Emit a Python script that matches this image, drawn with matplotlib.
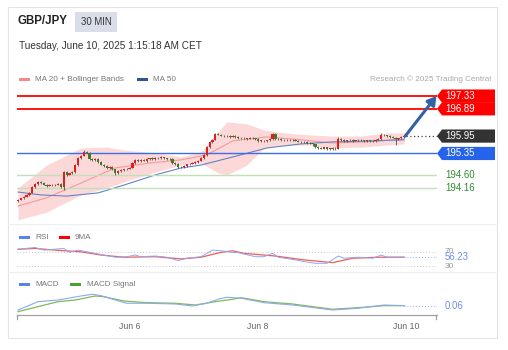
import matplotlib
matplotlib.use('Agg')
import matplotlib.pyplot as plt
from matplotlib.patches import Rectangle, Polygon
import matplotlib.transforms as mtransforms
import numpy as np

plt.rcParams['font.family'] = ['Liberation Sans', 'DejaVu Sans']

# ---- data (30 min bars, GBP/JPY) ----
first_open = 193.70
closes = [193.75, 193.80, 193.86, 193.92, 193.99, 194.19, 194.30, 194.37, 194.34, 194.28,
          194.24, 194.27, 194.25, 194.28, 194.30, 194.20, 194.70, 194.62, 194.66, 194.70,
          194.95, 195.20, 195.28, 195.40, 195.38, 195.15, 195.12, 195.16, 195.05, 194.96,
          194.92, 194.85, 194.90, 194.80, 194.66, 194.74, 194.78, 194.80, 194.83, 194.86,
          195.02, 195.12, 195.08, 195.14, 195.10, 195.16, 195.19, 195.15, 195.20, 195.18,
          195.22, 195.19, 195.16, 195.15, 195.02, 194.98, 194.90, 194.88, 194.92, 194.97,
          195.00, 195.02, 195.06, 195.10, 195.20, 195.30, 195.57, 195.75, 195.82, 196.02,
          196.00, 195.96, 195.94, 195.96, 195.93, 195.96, 195.92, 195.88, 195.90, 195.88,
          195.86, 195.89, 195.87, 195.84, 195.78, 195.79, 195.77, 195.80, 195.86, 196.02,
          195.86, 195.84, 195.82, 195.80, 195.83, 195.80, 195.82, 195.79, 195.76, 195.73,
          195.76, 195.72, 195.70, 195.66, 195.58, 195.55, 195.52, 195.56, 195.50, 195.53,
          195.50, 195.52, 195.86, 195.82, 195.78, 195.80, 195.82, 195.79, 195.81, 195.83,
          195.80, 195.78, 195.80, 195.77, 195.79, 195.83, 195.85, 196.00, 195.97, 195.95,
          195.92, 195.90, 195.86, 195.88, 195.91, 195.95]
# wick extents in pips (0.01)
wick_up = [2, 3, 2, 3, 4, 5, 3, 3, 2, 3, 2, 3, 2, 3, 2, 3, 4, 3, 3, 4,
           5, 4, 3, 6, 4, 3, 3, 4, 2, 3, 3, 2, 3, 3, 2, 3, 2, 3, 2, 3,
           4, 3, 3, 2, 3, 3, 2, 3, 3, 2, 3, 2, 2, 3, 3, 2, 3, 2, 3, 2,
           2, 3, 2, 3, 4, 3, 5, 4, 3, 4, 3, 3, 2, 3, 2, 3, 2, 3, 2, 3,
           2, 3, 2, 2, 3, 2, 2, 3, 3, 4, 3, 2, 3, 2, 3, 2, 3, 2, 2, 3,
           2, 3, 2, 2, 3, 2, 3, 2, 3, 2, 3, 4, 5, 3, 2, 3, 2, 3, 2, 3,
           2, 3, 2, 3, 2, 3, 3, 4, 3, 2, 3, 2, 3, 2, 3, 3]
wick_dn = [3, 2, 3, 2, 3, 2, 3, 2, 3, 2, 3, 2, 3, 2, 3, 4, 12, 3, 2, 3,
           3, 2, 3, 2, 3, 2, 4, 3, 3, 2, 3, 3, 2, 3, 5, 3, 2, 3, 2, 3,
           2, 3, 2, 3, 2, 3, 2, 3, 2, 3, 2, 3, 2, 3, 4, 3, 4, 3, 2, 3,
           2, 3, 2, 3, 2, 3, 3, 2, 3, 2, 3, 2, 3, 2, 3, 2, 3, 2, 3, 2,
           3, 2, 3, 2, 4, 3, 2, 3, 2, 3, 3, 2, 3, 2, 3, 2, 3, 2, 3, 3,
           2, 3, 3, 4, 3, 4, 3, 2, 4, 3, 3, 2, 3, 3, 2, 3, 2, 3, 2, 3,
           2, 3, 2, 3, 2, 3, 2, 3, 2, 3, 2, 3, 21, 3, 2, 3]

# indicator readings (bar index, value)
bb_idx = [0, 10, 22, 31, 37, 48, 57, 64, 70, 73, 80, 86, 93, 102, 110, 120, 129, 135]
bb_upper = [194.16, 194.95, 195.54, 195.57, 195.47, 195.37, 195.23, 195.40, 196.09, 196.44,
            196.37, 196.16, 196.06, 195.99, 195.95, 195.95, 196.06, 196.06]
bb_lower = [193.06, 193.33, 193.92, 194.16, 194.37, 194.71, 194.95, 195.02, 194.68, 194.61,
            194.95, 195.54, 195.64, 195.64, 195.54, 195.57, 195.64, 195.68]
ma20_idx = [0, 10, 22, 34, 46, 57, 66, 75, 87, 99, 110, 122, 135]
ma20 = [193.54, 193.82, 194.33, 194.85, 195.02, 195.13, 195.30, 195.78, 195.92, 195.82,
        195.71, 195.75, 195.85]
ma50_idx = [0, 8, 17, 28, 37, 48, 57, 64, 79, 87, 99, 110, 122, 135]
ma50 = [194.02, 193.92, 193.88, 193.99, 194.26, 194.61, 194.85, 194.95, 195.33, 195.54,
        195.68, 195.75, 195.78, 195.82]

rsi_idx = [0, 6, 9, 16, 18, 21, 26, 30, 34, 38, 41, 43, 48, 52, 56, 59, 64, 68, 71, 75,
           77, 83, 86, 89, 91, 97, 100, 104, 108, 112, 114, 119, 124, 127, 129, 135]
rsi = [79.5, 85, 77, 82, 70.5, 77, 69, 62.5, 56, 57.5, 62.5, 57.5, 59.5, 56, 46, 53, 57.5,
       77, 75, 70.5, 69.5, 57.5, 57.5, 67.5, 56, 48, 43, 38, 38, 59.5, 53, 56, 53, 62.5,
       56, 56.23]
rsi_ma_idx = [0, 6, 13, 22, 29, 37, 48, 57, 64, 71, 75, 79, 90, 100, 110, 117, 126, 135]
rsi_ma = [79.5, 82, 77, 72, 62.5, 56, 57.5, 51, 56, 70.5, 75, 67.5, 59.5, 48, 40, 53, 56, 56]

macd_idx = [0, 7, 14, 22, 26, 29, 34, 38, 45, 55, 61, 66, 70, 73, 78, 86, 96, 110, 119, 128, 135]
macd = [0.008, 0.108, 0.128, 0.176, 0.197, 0.18, 0.128, 0.089, 0.089, 0.08, 0.056, 0.089,
        0.137, 0.161, 0.149, 0.096, 0.068, 0.008, 0.029, 0.068, 0.06]
sig_idx = [0, 7, 14, 20, 27, 30, 37, 45, 55, 62, 69, 75, 78, 86, 96, 110, 119, 128, 135]
signal = [-0.012, 0.048, 0.108, 0.128, 0.176, 0.168, 0.116, 0.096, 0.089, 0.068, 0.108,
          0.137, 0.156, 0.108, 0.08, 0.017, 0.036, 0.06, 0.06]

resistances = [197.33, 196.89]
last_price = 195.95
pivot = 195.35
supports = [194.60, 194.16]
rsi_last = 56.23
macd_last = 0.06
day_pos = [39.2, 83.9, 135.7]
day_labels = ['Jun 6', 'Jun 8', 'Jun 10']

# ---- figure ----
W, H = 508, 350
fig = plt.figure(figsize=(W / 100, H / 100), dpi=100)

def fx(px):
    return px / W

def fy(py):
    return 1 - py / H

def frect(x0, y0, x1, y1, **kw):
    fig.patches.append(Rectangle((fx(x0), fy(y1)), fx(x1) - fx(x0), fy(y0) - fy(y1),
                                 transform=fig.transFigure, **kw))

# card + separators
frect(8, 7, 497, 338, facecolor='none', edgecolor='#e3e3e3', linewidth=0.8)
for yy in (224, 272):
    fig.add_artist(plt.Line2D([fx(8), fx(497)], [fy(yy), fy(yy)], color='#eeeeee', lw=0.8,
                              transform=fig.transFigure))

# header
fig.text(fx(18), fy(21.5), 'GBP/JPY', fontsize=8.3, fontweight='bold', color='#222222', va='center')
frect(75, 12, 117, 32, facecolor='#d9dee8', edgecolor='none')
fig.text(fx(96), fy(22), '30 MIN', fontsize=6.9, color='#333333', ha='center', va='center')
fig.text(fx(19), fy(46), 'Tuesday, June 10, 2025 1:15:18 AM CET', fontsize=7.2, color='#333333', va='center')

# legends
grey = '#777777'
frect(19, 77.5, 30, 81, facecolor='#f58a8a', edgecolor='none')
fig.text(fx(35), fy(79.5), 'MA 20 + Bollinger Bands', fontsize=5.9, color=grey, va='center')
frect(137, 77.5, 148, 81, facecolor='#2f5597', edgecolor='none')
fig.text(fx(153), fy(79.5), 'MA 50', fontsize=5.9, color=grey, va='center')
fig.text(fx(491), fy(79.5), 'Research \u00a9 2025 Trading Central', fontsize=5.9, color='#aaaaaa',
         va='center', ha='right')

frect(19, 235.5, 30, 239, facecolor='#5b83e6', edgecolor='none')
fig.text(fx(35), fy(237.5), 'RSI', fontsize=5.9, color=grey, va='center')
frect(59, 235.5, 70, 239, facecolor='#ff0000', edgecolor='none')
fig.text(fx(75), fy(237.5), '9MA', fontsize=5.9, color=grey, va='center')

frect(19, 282.5, 30, 286, facecolor='#5b83e6', edgecolor='none')
fig.text(fx(35), fy(284.5), 'MACD', fontsize=5.9, color=grey, va='center')
frect(70, 282.5, 81, 286, facecolor='#4ca32c', edgecolor='none')
fig.text(fx(87), fy(284.5), 'MACD Signal', fontsize=5.9, color=grey, va='center')

XMIN, XMAX = -0.35, 146.5
AX_L, AX_W = fx(17), 420 / W

# ---- main price panel ----
ax = fig.add_axes([AX_L, fy(222), AX_W, 134 / H])
ax.set_xlim(XMIN, XMAX)
ax.set_ylim(192.987, 197.608)
ax.axis('off')

idx = np.arange(len(closes))
c = np.array(closes)
o = np.array([first_open] + closes[:-1])
hi = np.maximum(o, c) + np.array(wick_up) / 100
lo = np.minimum(o, c) - np.array(wick_dn) / 100

ax.fill_between(bb_idx, bb_lower, bb_upper, color='#fcd8d8', linewidth=0, zorder=1)
ax.plot(ma20_idx, ma20, color='#f49a9a', lw=0.8, zorder=2)
ax.plot(ma50_idx, ma50, color='#6284c2', lw=0.8, zorder=2)

for lvl in resistances:
    ax.axhline(lvl, color='#ff1414', lw=1.4, zorder=3)
ax.axhline(pivot, color='#3a6df0', lw=1.0, zorder=3)
for lvl in supports:
    ax.axhline(lvl, color='#bfe0b8', lw=1.0, zorder=3)

up = c >= o
body_col = np.where(up, '#e01e1e', '#3f7a25')
ax.vlines(idx, lo, hi, color='#444444', lw=0.55, zorder=4)
ax.bar(idx, np.maximum(np.abs(c - o), 0.02), bottom=np.minimum(o, c), width=0.78,
       color=body_col, linewidth=0, zorder=5)

ax.plot([idx[-1] + 0.5, XMAX], [last_price, last_price], color='#444444', lw=0.9,
        linestyle=(0, (1, 2)), zorder=3, clip_on=False)
ax.annotate('', xy=(XMAX - 0.2, resistances[0]), xytext=(idx[-1] + 0.4, last_price),
            arrowprops=dict(arrowstyle='-|>,head_length=0.5,head_width=0.3', color='#2f62a6',
                            lw=2.2, shrinkA=0, shrinkB=0), zorder=6, annotation_clip=False)

# price tags on the right
tr = mtransforms.blended_transform_factory(ax.transAxes, ax.transData)
hh = 6.6 / 29
tip = 5 / 420
right = (495 - 17) / 420

def tag(level, color, text):
    pts = [(1.0, level), (1.0 + tip, level + hh), (right, level + hh), (right, level - hh),
           (1.0 + tip, level - hh)]
    ax.add_patch(Polygon(pts, closed=True, facecolor=color, edgecolor='none',
                         transform=tr, clip_on=False, zorder=6))
    ax.text((445 - 17) / 420, level, text, transform=tr, color='white', fontsize=6.9,
            va='center', ha='left', zorder=7)

for lvl in resistances:
    tag(lvl, '#ff0000', f'{lvl:.2f}')
tag(last_price, '#333333', f'{last_price:.2f}')
tag(pivot, '#2563eb', f'{pivot:.2f}')
for lvl in supports:
    ax.text((445 - 17) / 420, lvl, f'{lvl:.2f}', transform=tr, color='#2e8b2e', fontsize=6.9,
            va='center', ha='left')

# ---- RSI panel ----
ax_r = fig.add_axes([AX_L, fy(270), AX_W, 30 / H])
ax_r.set_xlim(XMIN, XMAX)
ax_r.set_ylim(18.15, 107.0)
ax_r.axis('off')
for lvl in (70, 30):
    ax_r.axhline(lvl, color='#c8c8c8', lw=0.7, linestyle=(0, (1, 2)))
ax_r.plot(rsi_ma_idx, rsi_ma, color='#f05a5a', lw=0.9)
ax_r.plot(rsi_idx, rsi, color='#8ea8f0', lw=0.7)
ax_r.plot([idx[-1], XMAX], [rsi_last, rsi_last], color='#8ea8f0', lw=0.7, linestyle=(0, (1, 2)))
trr = mtransforms.blended_transform_factory(ax_r.transAxes, ax_r.transData)
ax_r.text((445 - 17) / 420, 72, '70', transform=trr, color='#999999', fontsize=6.0, va='center')
ax_r.text((445 - 17) / 420, 28, '30', transform=trr, color='#999999', fontsize=6.0, va='center')
ax_r.text((445 - 17) / 420, rsi_last, f'{rsi_last:.2f}', transform=trr, color='#6b8fe8',
          fontsize=6.9, va='center', zorder=5,
          bbox=dict(facecolor='white', edgecolor='none', pad=0.3))

# ---- MACD panel ----
ax_m = fig.add_axes([AX_L, fy(315), AX_W, 30 / H])
ax_m.set_xlim(XMIN, XMAX)
ax_m.set_ylim(-0.052, 0.308)
ax_m.patch.set_alpha(0)
for s in ('top', 'left', 'right'):
    ax_m.spines[s].set_visible(False)
ax_m.spines['bottom'].set_color('#a0a0a0')
ax_m.spines['bottom'].set_linewidth(0.9)
ax_m.set_yticks([])
ax_m.set_xticks(day_pos)
ax_m.set_xticklabels(day_labels, fontsize=6.3, color='#666666')
ax_m.tick_params(axis='x', length=0, pad=5)
ax_m.plot([0, 0], [0, -0.12], transform=ax_m.transAxes, color='#a0a0a0', lw=0.9, clip_on=False)
ax_m.plot([0.997, 0.997], [0, -0.12], transform=ax_m.transAxes, color='#a0a0a0', lw=0.9, clip_on=False)
ax_m.plot(sig_idx, signal, color='#7dbb55', lw=0.9)
ax_m.plot(macd_idx, macd, color='#8ea8f0', lw=0.8)
ax_m.plot([idx[-1], XMAX], [macd_last, macd_last], color='#8ea8f0', lw=0.7, linestyle=(0, (1, 2)))
trm = mtransforms.blended_transform_factory(ax_m.transAxes, ax_m.transData)
ax_m.text((445 - 17) / 420, macd_last, f'{macd_last:.2f}', transform=trm, color='#6b8fe8',
          fontsize=6.9, va='center')

fig.savefig('out.png', dpi=100)
